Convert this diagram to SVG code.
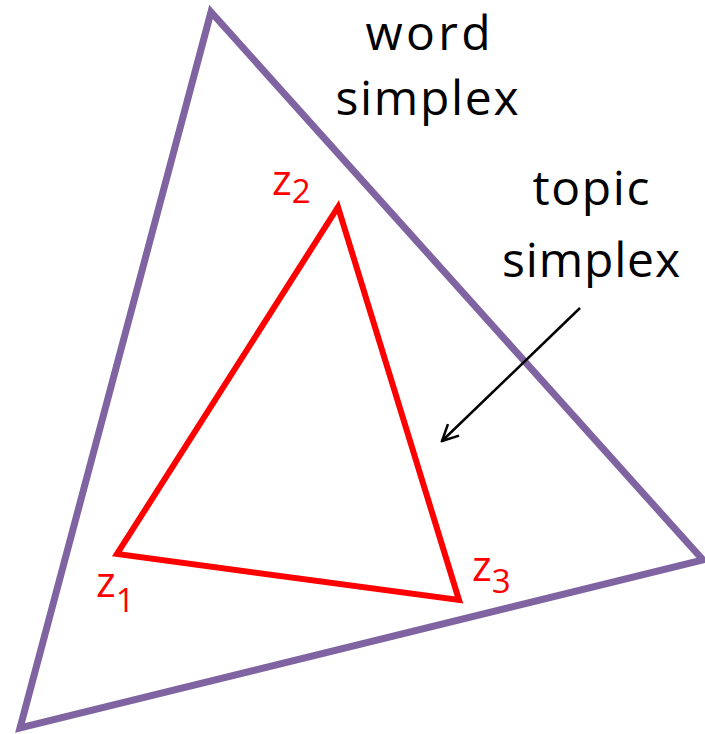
<svg xmlns="http://www.w3.org/2000/svg" width="705" height="734" viewBox="0 0 705 734">
<style>
.lbl{font-family:"Open Sans","Liberation Sans",sans-serif;font-size:48px;fill:#000;text-anchor:middle}
.z{font-family:"Open Sans","Liberation Sans",sans-serif;fill:#ff0000}
</style>
<defs>
<marker id="arr" viewBox="0 0 20 20" refX="18" refY="10" markerWidth="20" markerHeight="20" markerUnits="userSpaceOnUse" orient="auto">
<path d="M2,2 L18,10 L2,18" fill="none" stroke="#000" stroke-width="2.5"/>
</marker>
</defs>
<rect width="705" height="734" fill="#fff"/>
<g id="word-simplex">
<polygon points="211,12 703,560 20,728" fill="none" stroke="#8064A2" stroke-width="7" stroke-linejoin="miter"/>
<text class="lbl" x="428" y="50" textLength="125" lengthAdjust="spacing">word</text>
<text class="lbl" x="427" y="115" textLength="183" lengthAdjust="spacing">simplex</text>
</g>
<g id="topic-simplex">
<polygon points="338,207 117,554 459,600" fill="none" stroke="#ff0000" stroke-width="6"/>
</g>
<g id="z2"><text class="z" x="272" y="195" font-size="42">z<tspan font-size="33" dy="8">2</tspan></text></g>
<g id="z1"><text class="z" x="96" y="597" font-size="42">z<tspan font-size="33" dy="15">1</tspan></text></g>
<g id="z3"><text class="z" x="472" y="581" font-size="42">z<tspan font-size="33" dy="12">3</tspan></text></g>
<g id="topic-label">
<text class="lbl" x="591" y="205" textLength="117" lengthAdjust="spacing">topic</text>
<text class="lbl" x="591" y="277" textLength="178" lengthAdjust="spacing">simplex</text>
</g>
<g id="connectors">
<line x1="580" y1="308" x2="442" y2="441" stroke="#000" stroke-width="2.5" marker-end="url(#arr)"/>
</g>
</svg>
